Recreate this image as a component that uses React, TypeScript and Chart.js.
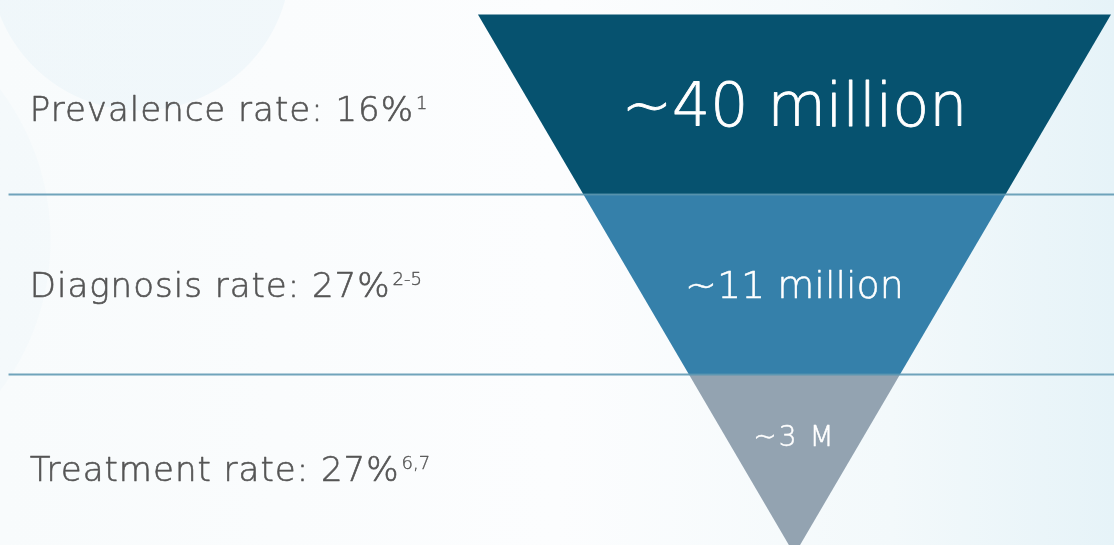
import React, { useEffect, useRef } from "react";
import { Chart, registerables } from "chart.js";

Chart.register(...registerables);

// ---- data ----
const stages = ["Prevalence rate", "Diagnosis rate", "Treatment rate"];
const rates = ["16%", "27%", "27%"];
const refs = ["1", "2-5", "6,7"];
const counts = ["~40 million", "~11 million", "~3 M"];
// funnel levels (apex = 0, top = 3); each stage occupies one band
const bandTop = [3, 2, 1];
const bandBottom = [2, 1, 0];
const countLevel = [2.5, 1.5, 0.66];
const bandColors = ["#06526f", "#3580aa", "#93a3b1"];
const dividers = [2, 1];

// ---- layout (scale units) ----
const TOP = 3;
const X_MIN = -2.51;
const X_MAX = 1.0095;
const Y_MIN = 0.053;
const Y_MAX = 3.081;
const RULE_START = -2.483;
const LABEL_X = -2.416;

const halfWidth = (lvl: number) => lvl / TOP;

const trapezoid = (top: number, bottom: number) => [
  { x: -halfWidth(top), y: top },
  { x: halfWidth(top), y: top },
  { x: halfWidth(bottom), y: bottom },
  { x: -halfWidth(bottom), y: bottom },
  { x: -halfWidth(top), y: top },
];

const FONT = '"DejaVu Sans", sans-serif';

function drawText(ctx: any, text: string, x: number, y: number, color: string, weight: number) {
  ctx.fillStyle = color;
  ctx.strokeStyle = color;
  ctx.lineWidth = weight;
  ctx.lineJoin = "round";
  ctx.fillText(text, x, y);
  if (weight > 0) ctx.strokeText(text, x, y);
}

const labelPlugin = {
  id: "funnelLabels",
  afterDatasetsDraw(chart: any) {
    const { ctx, scales } = chart;
    const xs = scales.x;
    const ys = scales.y;
    ctx.save();
    // left labels
    const lx = xs.getPixelForValue(LABEL_X);
    stages.forEach((s, i) => {
      const cy = ys.getPixelForValue((bandTop[i] + bandBottom[i]) / 2) + (i === 1 ? 0 : 4);
      const size = 34;
      const base = cy + 0.365 * size;
      const main = `${s}: ${rates[i]}`;
      ctx.font = `200 ${size}px ${FONT}`;
      ctx.letterSpacing = "1px";
      ctx.textAlign = "left";
      ctx.textBaseline = "alphabetic";
      drawText(ctx, main, lx, base, "#555555", 0.6);
      const w = ctx.measureText(main).width;
      ctx.font = `200 18px ${FONT}`;
      ctx.letterSpacing = "0px";
      drawText(ctx, refs[i], lx + w + 2, base - 12, "#555555", 0.4);
    });
    // counts inside funnel
    const sizes = [60, 38, 28];
    const spacing = ["0px", "0px", "2px"];
    counts.forEach((c, i) => {
      const cy = ys.getPixelForValue(countLevel[i]);
      const size = sizes[i];
      ctx.font = `200 ${size}px ${FONT}`;
      ctx.letterSpacing = spacing[i];
      ctx.textAlign = "center";
      ctx.textBaseline = "alphabetic";
      drawText(ctx, c, xs.getPixelForValue(0), cy + 0.365 * size, "#ffffff", i === 0 ? 0.8 : 0.5);
    });
    ctx.restore();
  },
};

export default function App() {
  const ref = useRef<HTMLCanvasElement | null>(null);

  useEffect(() => {
    if (!ref.current) return;
    const datasets: any[] = [];
    dividers.forEach((lvl) => {
      datasets.push({
        data: [
          { x: RULE_START, y: lvl },
          { x: X_MAX, y: lvl },
        ],
        showLine: true,
        borderColor: "rgba(88,148,175,0.85)",
        borderWidth: 2,
        pointRadius: 0,
        fill: false,
        clip: false,
      });
    });
    stages.forEach((_, i) => {
      datasets.push({
        data: trapezoid(bandTop[i], bandBottom[i]),
        showLine: true,
        borderWidth: 0,
        borderColor: bandColors[i],
        backgroundColor: bandColors[i],
        pointRadius: 0,
        fill: "shape",
        tension: 0,
      });
    });

    const chart = new Chart(ref.current, {
      type: "scatter",
      data: { datasets },
      options: {
        animation: false,
        responsive: false,
        maintainAspectRatio: false,
        layout: { padding: 0 },
        events: [],
        plugins: {
          legend: { display: false },
          tooltip: { enabled: false },
          title: { display: false },
        },
        scales: {
          x: { type: "linear", min: X_MIN, max: X_MAX, display: false },
          y: { type: "linear", min: Y_MIN, max: Y_MAX, display: false },
        },
      },
      plugins: [labelPlugin],
    });
    return () => chart.destroy();
  }, []);

  return (
    <div
      style={{
        position: "absolute",
        left: 0,
        top: 0,
        width: 1114,
        height: 545,
        overflow: "hidden",
        background:
          "radial-gradient(circle at 140px -40px, rgba(230,242,248,0.45) 0 150px, rgba(230,242,248,0) 151px)," +
          "radial-gradient(circle at -200px 240px, rgba(232,243,248,0.25) 0 250px, rgba(232,243,248,0) 251px)," +
          "linear-gradient(90deg, #f8fbfc 0%, #fcfdfe 50%, #f3f9fb 80%, #e6f3f8 100%)",
      }}
    >
      <canvas ref={ref} width={1114} height={545} style={{ display: "block" }} />
    </div>
  );
}
